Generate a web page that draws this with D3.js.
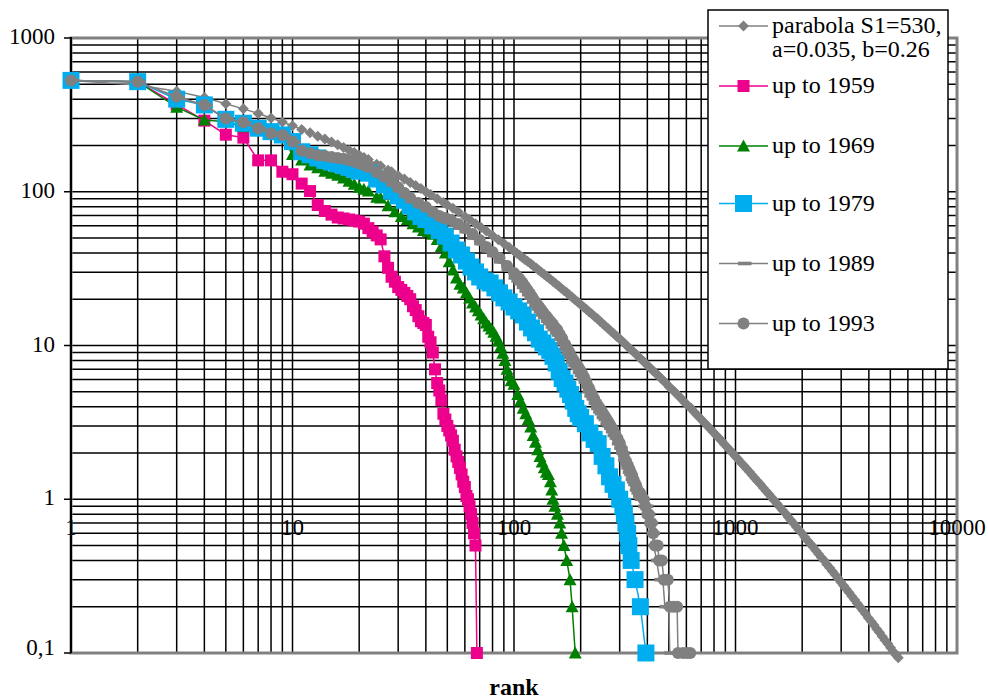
<!DOCTYPE html>
<html>
<head>
<meta charset="utf-8">
<script src="https://cdn.jsdelivr.net/npm/d3@7"></script>
<style>
  html, body { margin: 0; padding: 0; background: #fff; }
  svg { display: block; }
</style>
</head>
<body>
<svg id="chart" width="988" height="700"></svg>
<script>
// ---- Data: rank-size distributions (rank, size) ----
const xTickValues = [1, 10, 100, 1000, 10000];
const xTickLabels = ["1", "10", "100", "1000", "10000"];
const yTickValues = [0.1, 1, 10, 100, 1000];
const yTickLabels = ["0,1", "1", "10", "100", "1000"];
const xTitle = "rank";

const seriesNames = ["parabola S1=530,|a=0.035, b=0.26", "up to 1959", "up to 1969", "up to 1979", "up to 1989", "up to 1993"];

const parabolaRanks = [1,2,3,4,5,6,7,8,9,10,11,12,13,14,15,16,17,18,19,20,21,22,24,25,27,28,30,32,34,36,38,40,42,45,48,50,53,56,60,63,67,71,75,80,85,90,95,
  100,103,106,109,112,115,119,122,126,129,133,137,141,145,150,154,159,163,168,173,178,183,188,194,200,206,212,218,224,231,238,245,251,258,266,274,282,290,299,
  307,316,325,335,345,355,365,376,387,398,410,422,434,447,460,473,487,501,516,531,546,562,579,596,613,631,649,668,688,708,729,750,772,794,818,841,866,891,917,944,972,
  1000,1029,1059,1090,1122,1155,1189,1223,1259,1296,1334,1373,1413,1454,1496,1540,1585,1632,1679,1728,1778,1830,1884,1939,1995,2054,2113,2176,2239,2304,2371,2441,
  2512,2585,2661,2738,2818,2901,2985,3073,3162,3255,3350,3447,3548,3652,3758,3868,3981,4097,4217,4340,4467,4597,4732,4870,5012,5158,5309,5430];
const parabolaSizes = [530,495,450,410,374,346,323,302,284,269,254,242,230,220,211,202,194,186,180,173,167,162,151,147,138,135,127,121,115,110,105,100,96,90,85,82,78,74,69,66,62,58.6,55.5,52,48.8,46,43.5,
  41.1,39.8,38.6,37.4,36.3,35.3,34,33,31.9,31,30,29,28,27.2,26.1,25.3,24.4,23.7,22.8,22.1,21.3,20.6,19.9,19.2,18.5,17.8,17.2,16.6,16.1,15.45,14.9,14.3,13.9,13.4,12.9,12.4,11.95,11.5,11.1,
  10.7,10.3,9.9,9.5,9.13,8.8,8.46,8.1,7.8,7.5,7.2,6.9,6.65,6.4,6.13,5.9,5.65,5.4,5.2,5.0,4.79,4.6,4.39,4.2,4.04,3.9,3.71,3.55,3.4,3.25,3.11,2.98,2.85,2.73,2.61,2.5,2.39,2.28,2.18,2.08,1.99,
  1.9,1.82,1.73,1.66,1.58,1.51,1.44,1.37,1.31,1.25,1.19,1.13,1.08,1.03,0.98,0.935,0.89,0.847,0.81,0.768,0.73,0.696,0.66,0.629,0.6,0.569,0.54,0.514,0.49,0.464,0.44,0.418,
  0.4,0.377,0.358,0.34,0.323,0.306,0.29,0.275,0.261,0.247,0.234,0.222,0.21,0.199,0.189,0.179,0.169,0.16,0.152,0.143,0.136,0.128,0.121,0.115,0.108,0.102,0.097,0.093];

const ranks1959 = [1,2,3,4,5,6,7,8,9,10,11,12,13,14,15,16,17,18,19,20,21,22,23,24,25,26,27,28,29,30,31,32,33,34,35,36,37,38,39,40,41,42,43,44,45,46,47,48,49,50,51,52,53,54,55,56,57,58,59,60,61,62,63,64,65,66,67,68];
const sizes1959 = [530,520,370,290,235,225,160,160,135,130,113,101,82,75,71,68,67,66,65,64,62,58,55,52,49,38,32,28,26,24,23,22,21,20,18,17,15.5,14.4,14,13.6,11.4,10.5,9,7,5.7,5.1,4.4,3.6,3.3,3,2.8,2.6,2.4,2.1,1.9,1.75,1.6,1.45,1.3,1.2,1.05,1,0.9,0.8,0.7,0.6,0.5,0.1];

const ranks1969 = [1,2,3,4,5,6,7,8,9,10,11,12,13,14,15,16,17,18,19,20,21,22,24,25,27,29,31,33,35,37,39,41,43,45,47,49,51,53,55,57,59,61,63,65,67,69,71,73,75,77,79,81,83,85,87,89,91,93,95,97,100,104,107,110,113,116,119,122,125,128,131,134,137,140,143,146,148,150,153,157,161,164,168,173,179,183,189];
const sizes1969 = [530,520,355,293,285,265,250,240,225,175,161,149,143,136,132,128,123,117,112,107,104,101,92,91,81,74,69,66,62,59,56,55,53,49,44,40,35,31,27.5,25,23.7,22,20.4,18.9,17.8,16.8,15.8,14.9,14,13.4,12.8,12.2,11.5,10.7,9.8,8.9,8,7,6.4,5.9,5.6,4.8,4.35,3.9,3.6,3.3,2.95,2.6,2.35,2.1,1.9,1.75,1.6,1.5,1.45,1.3,1.15,1.0,0.9,0.8,0.7,0.6,0.5,0.4,0.3,0.2,0.1];

const ranks1979 = [1,2,3,4,5,6,7,8,9,10,11,12,13,14,15,16,17,18,19,20,22,24,26,28,30,32,34,36,38,40,43,46,49,52,55,58,61,64,67,70,74,78,82,86,90,95,100,105,110,115,120,125,130,135,140,145,150,155,160,165,170,175,180,185,190,195,200,210,220,230,240,250,260,270,280,290,300,310,315,320,326,330,338,352,372,394];
const sizes1979 = [530,520,400,367,296,279,259,246,234,212,182,174,166,160,156,152,148,144,140,136,132,121,111,101,94,88,81,74,69,66,60,56,51.5,46.4,41.8,38.8,35.4,32.4,30.1,27.9,26.3,25.5,23.7,22,20.4,19.2,17.8,16.8,15.8,14.2,13,12.1,11,10.4,9.8,9.3,8.5,7.7,6.8,6.1,5.7,5.2,4.8,4.35,3.9,3.6,3.4,3.1,2.7,2.45,2.3,1.9,1.65,1.4,1.25,1.15,1.0,0.9,0.8,0.7,0.6,0.5,0.4,0.3,0.2,0.1];

const ranks1989 = [1,2,3,4,5,6,7,8,9,10,11,12,13,14,15,16,17,18,19,20,21,22,24,26,28,30,32,34,37,40,43,46,49,52,56,60,65,70,75,80,86,93,
  100,103,106,109,112,115,118,121,124,127,130,133,136,140,143,147,150,154,157,161,165,170,174,178,182,186,191,195,199,203,207,212,216,220,225,230,236,241,245,250,
  255,260,265,270,275,280,286,293,300,306,312,318,323,328,333,338,342,347,353,359,365,371,378,385,392,400,412,420,428,440,455,470,480,500,505];
const sizes1989 = [530,520,410,365,298,281,257,238,232,210,183,176,171,168,165,162,159,156,152,148,144,140,129,120,111,102,94,87,81,76,71,67,64,62,58,55,50,46,41.5,38.5,35,31,
  27.5,26.3,25.2,23.9,22.6,21.4,20.3,19.2,18.1,17.3,16.6,15.8,15.2,14.4,13.9,13.2,12.7,12.1,11.7,11,10.3,9.5,8.9,8.4,7.8,7.4,7.1,6.7,6.4,6.1,5.8,5.4,5,4.7,4.5,4.2,3.9,3.7,3.6,3.4,
  3.3,3.1,3,2.9,2.75,2.6,2.5,2.3,2.15,2,1.8,1.7,1.6,1.5,1.45,1.35,1.3,1.25,1.15,1.1,1.05,1,1,0.9,0.9,0.8,0.7,0.6,0.5,0.4,0.3,0.3,0.2,0.2,0.1];

const ranks1993 = [1,2,3,4,5,6,7,8,9,10,11,12,13,14,15,16,17,18,19,20,21,22,24,26,28,30,32,34,37,40,43,46,49,52,56,60,65,70,75,80,86,93,
  100,103,106,109,112,115,118,121,124,127,130,133,136,140,143,147,150,154,157,161,165,170,174,178,182,186,191,195,199,203,207,212,216,220,225,230,236,241,245,250,
  255,260,265,270,275,280,286,293,300,306,312,318,323,328,333,338,342,347,353,359,365,371,378,385,392,400,406,412,418,425,433,445,452,465,475,495,505,525,545,550,580,605,625];
const sizes1993 = [530,520,415,367,300,283,259,240,234,212,185,178,173,171,168,166,164,160,157,153,149,145,134,125,116,107,98,91,84.5,79.6,74,69.6,67.6,65.6,61.8,58.2,53.2,48.6,43.7,40.6,37.1,32.9,
  29.6,28.3,27.1,25.7,24.3,23,21.8,20.6,19.5,18.6,17.8,17,16.3,15.5,14.9,14.2,13.7,13,12.6,11.8,11.1,10.2,9.6,9,8.4,8,7.6,7.25,6.9,6.55,6.24,5.8,5.4,5.1,4.8,4.5,4.2,4,3.87,3.7,
  3.53,3.38,3.23,3.09,2.95,2.82,2.66,2.49,2.32,2.13,1.96,1.8,1.71,1.63,1.55,1.47,1.41,1.33,1.25,1.18,1.11,1.1,1.04,1,0.9,0.8,0.8,0.7,0.7,0.6,0.5,0.5,0.4,0.4,0.3,0.3,0.2,0.2,0.2,0.1,0.1,0.1,0.1];

// ---- Layout ----
const plot = { left: 71, right: 957, top: 38, bottom: 653 };
const x = d3.scaleLog().domain([1, 10000]).range([plot.left, plot.right]);
const y = d3.scaleLog().domain([0.1, 1000]).range([plot.bottom, plot.top]);

const svg = d3.select("#chart");
const FONT = "Liberation Serif";

// ---- Marker shapes (centred on 0,0) ----
const markerPaths = {
  diamond: "M0,-5.5L5.5,0L0,5.5L-5.5,0Z",
  smallSquare: "M-6,-6H6V6H-6Z",
  triangle: "M0,-6.5L6.5,5.5L-6.5,5.5Z",
  bigSquare: "M-8.5,-8.5H8.5V8.5H-8.5Z",
  dash: "M-5.5,-1.8H8V1.8H-5.5Z",
  circle: "M-6,0A6,6 0 1,0 6,0A6,6 0 1,0 -6,0Z"
};

const series = [
  { ranks: parabolaRanks, sizes: parabolaSizes, color: "#808080", marker: "diamond" },
  { ranks: ranks1959, sizes: sizes1959, color: "#EC008C", marker: "smallSquare" },
  { ranks: ranks1969, sizes: sizes1969, color: "#008000", marker: "triangle" },
  { ranks: ranks1979, sizes: sizes1979, color: "#00AEEF", marker: "bigSquare" },
  { ranks: ranks1989, sizes: sizes1989, color: "#808080", marker: "dash" },
  { ranks: ranks1993, sizes: sizes1993, color: "#808080", marker: "circle" }
];

// ---- Grid (every 1..9 multiple of each decade) ----
const grid = svg.append("g");
grid.selectAll("line.vx").data(x.ticks()).join("line")
  .attr("x1", d => x(d)).attr("x2", d => x(d))
  .attr("y1", plot.top).attr("y2", plot.bottom)
  .attr("stroke", "#000").attr("stroke-width", 1.5);
grid.selectAll("line.hy").data(y.ticks()).join("line")
  .attr("x1", plot.left).attr("x2", plot.right)
  .attr("y1", d => y(d)).attr("y2", d => y(d))
  .attr("stroke", "#000").attr("stroke-width", 1.5);

// plot-area frame
svg.append("rect")
  .attr("x", plot.left).attr("y", plot.top)
  .attr("width", plot.right - plot.left).attr("height", plot.bottom - plot.top)
  .attr("fill", "none").attr("stroke", "#808080").attr("stroke-width", 3);

// value axis line and ticks
svg.append("line")
  .attr("x1", plot.left).attr("x2", plot.left)
  .attr("y1", plot.top - 1).attr("y2", plot.bottom)
  .attr("stroke", "#000").attr("stroke-width", 2);
svg.selectAll("line.ytick").data(yTickValues).join("line")
  .attr("x1", plot.left - 7).attr("x2", plot.left)
  .attr("y1", d => y(d)).attr("y2", d => y(d))
  .attr("stroke", "#000").attr("stroke-width", 1.5);

// y tick labels
svg.selectAll("text.ylab").data(yTickValues).join("text")
  .attr("x", 55)
  .attr("y", (d, i) => y(d) + (i === 0 ? 2 : 6))
  .attr("text-anchor", "end")
  .attr("font-family", FONT)
  .attr("font-size", 23)
  .text((d, i) => yTickLabels[i]);

// x tick labels, placed under the line where the axes cross (size 1)
svg.selectAll("text.xlab").data(xTickValues).join("text")
  .attr("x", d => x(d))
  .attr("y", y(1) + 36)
  .attr("text-anchor", "middle")
  .attr("font-family", FONT)
  .attr("font-size", 23)
  .text((d, i) => xTickLabels[i]);

// axis title
svg.append("text")
  .attr("x", (plot.left + plot.right) / 2)
  .attr("y", 695)
  .attr("text-anchor", "middle")
  .attr("font-family", FONT)
  .attr("font-size", 24)
  .attr("font-weight", "bold")
  .text(xTitle);

// ---- Series ----
const line = d3.line().x(d => x(d[0])).y(d => y(d[1]));
series.forEach(s => {
  const pts = s.ranks.map((r, i) => [r, s.sizes[i]]);
  const g = svg.append("g");
  g.append("path")
    .attr("d", line(pts))
    .attr("fill", "none")
    .attr("stroke", s.color)
    .attr("stroke-width", 1.5);
  g.selectAll("path.m").data(pts).join("path")
    .attr("d", markerPaths[s.marker])
    .attr("transform", d => `translate(${x(d[0])},${y(d[1])})`)
    .attr("fill", s.color);
});

// ---- Legend ----
const legend = svg.append("g");
legend.append("rect")
  .attr("x", 708).attr("y", 10).attr("width", 240).attr("height", 359)
  .attr("fill", "#fff").attr("stroke", "#000").attr("stroke-width", 1.5);
const legendRows = [26, 86, 146, 203.5, 263.5, 323.5];
series.forEach((s, i) => {
  const ly = legendRows[i];
  legend.append("line")
    .attr("x1", 719).attr("x2", 768).attr("y1", ly).attr("y2", ly)
    .attr("stroke", s.color).attr("stroke-width", 1.5);
  legend.append("path")
    .attr("d", markerPaths[s.marker])
    .attr("transform", `translate(743.5,${ly})`)
    .attr("fill", s.color);
  const lines = seriesNames[i].split("|");
  lines.forEach((t, k) => {
    legend.append("text")
      .attr("x", 772)
      .attr("y", ly + 7 + k * 23.5)
      .attr("font-family", FONT)
      .attr("font-size", 24)
      .text(t);
  });
});
</script>
</body>
</html>
